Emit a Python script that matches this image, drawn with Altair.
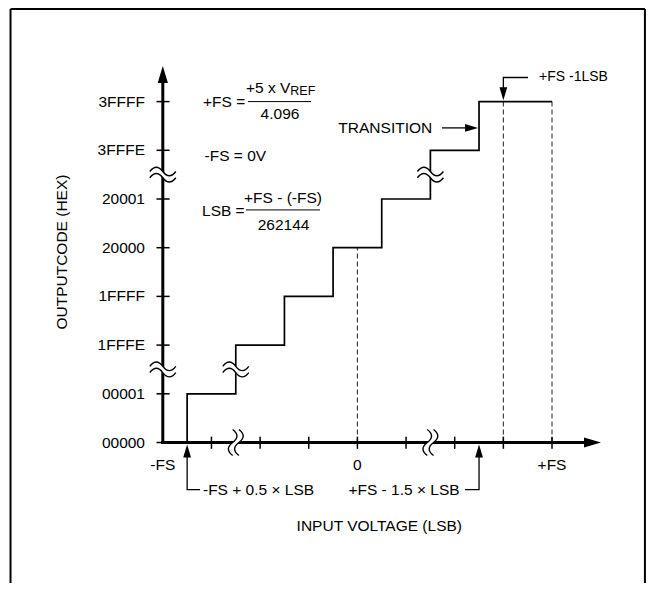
import altair as alt
import pandas as pd

# ---------------- data (LSB units on x, code index on y) ----------------
code_labels = ["00000", "00001", "1FFFE", "1FFFF", "20000", "20001", "3FFFE", "3FFFF"]
code_index = [0, 1, 2, 3, 4, 5, 6, 7]
transition_lsb = [0.5, 0.5, 1.5, 2.5, 3.5, 4.5, 5.5, 6.5, 8.0]
transition_code = [0, 1, 2, 3, 4, 5, 6, 7, 7]
x_tick_lsb = [1, 2, 3, 4, 5, 6, 7, 8]
x_label_lsb = [0, 4, 8]
x_label_text = ["-FS", "0", "+FS"]
dashed_lsb = [4, 7, 8]
dashed_top = [4, 7, 7]
break_vertical_u = [0, 0, 1.5, 5.5]      # breaks on vertical lines (y axis, risers)
break_vertical_c = [1.5, 5.5, 1.5, 5.5]
break_axis_u = [1.5, 5.5]                # breaks on the x axis

FONT = "Liberation Sans, Arial, sans-serif"
FS = 15.5
XS = alt.Scale(domain=[-3.182, 9.932], nice=False, zero=False)
YS = alt.Scale(domain=[-2.885, 8.922], nice=False, zero=False)


def X(f):
    return alt.X(f, type="quantitative", scale=XS, axis=None)


def Y(f):
    return alt.Y(f, type="quantitative", scale=YS, axis=None)


# ---------------- frame ----------------
border = pd.DataFrame({"u": [-3.13, -3.13, 9.91], "u2": [-3.13, 9.91, 9.91],
                       "c": [-2.9, 8.9, 8.9], "c2": [8.9, 8.9, -2.9]})
border_l = alt.Chart(border).mark_rule(color="black", strokeWidth=2).encode(
    x=X("u"), x2="u2", y=Y("c"), y2="c2")

# dashed references
dashed = pd.DataFrame({"u": dashed_lsb, "c0": [0] * 3, "c1": dashed_top})
dashed_l = alt.Chart(dashed).mark_rule(color="#333", strokeWidth=1.1, strokeDash=[5, 3]).encode(
    x=X("u"), y=Y("c0"), y2="c1")

# staircase
stairs = pd.DataFrame({"u": transition_lsb, "c": transition_code})
stairs_l = alt.Chart(stairs).mark_line(color="black", strokeWidth=1.7, interpolate="step-after").encode(
    x=X("u"), y=Y("c"))

# axes
axes = pd.DataFrame({"u": [-0.03, 0], "u2": [8.9, 0], "c": [0, -0.03], "c2": [0, 7.5]})
axes_l = alt.Chart(axes).mark_rule(color="black", strokeWidth=3).encode(
    x=X("u"), x2="u2", y=Y("c"), y2="c2")

# ticks
yt = pd.DataFrame({"c": code_index, "u0": [-0.13] * 8, "u1": [0.14] * 8})
yt_l = alt.Chart(yt).mark_rule(color="black", strokeWidth=1.5).encode(
    x=X("u0"), x2="u1", y=Y("c"))
xt = pd.DataFrame({"u": x_tick_lsb, "c0": [-0.13] * 8, "c1": [0.12] * 8})
xt_l = alt.Chart(xt).mark_rule(color="black", strokeWidth=1.5).encode(
    x=X("u"), y=Y("c0"), y2="c1")

# break symbols
CURVES = ("M-1,-0.24 Q-0.5,-0.9 0,-0.24 Q0.5,0.42 1,-0.24 "
          "M-1,0.24 Q-0.5,-0.42 0,0.24 Q0.5,0.9 1,0.24")
MASK = ("M-1,-0.24 Q-0.5,-0.9 0,-0.24 Q0.5,0.42 1,-0.24 L1,0.24 "
        "Q0.5,0.9 0,0.24 Q-0.5,-0.42 -1,0.24 Z")
brk = pd.DataFrame({"u": break_vertical_u + break_axis_u,
                    "c": break_vertical_c + [0, 0],
                    "ang": [0, 0, 0, 0, 90, 90]})
mask_l = alt.Chart(brk).mark_point(shape=MASK, filled=True, color="white", opacity=1,
                                   size=676, strokeWidth=0).encode(
    x=X("u"), y=Y("c"), angle=alt.Angle("ang:Q", scale=None))
curve_l = alt.Chart(brk).mark_point(shape=CURVES, filled=False, color="black", opacity=1,
                                    size=676, strokeWidth=1.4).encode(
    x=X("u"), y=Y("c"), angle=alt.Angle("ang:Q", scale=None))

# arrowheads (tip at the point)
ARROW = "M0,0 L-0.6,2 L0.6,2 Z"
arr = pd.DataFrame({"u": [0, 9.007, 0.5, 6.5, 7.0, 6.48],
                    "c": [7.731, 0, -0.04, -0.04, 7.03, 6.46],
                    "ang": [0, 90, 0, 0, 180, 90],
                    "s": [289, 289, 169, 169, 169, 169]})
arr_l = alt.Chart(arr).mark_point(shape=ARROW, filled=True, color="black", opacity=1,
                                  strokeWidth=0).encode(
    x=X("u"), y=Y("c"), angle=alt.Angle("ang:Q", scale=None), size=alt.Size("s:Q", scale=None))

# leader lines
lead = pd.DataFrame({
    "g": ["a"] * 3 + ["b"] * 3 + ["c"] * 3 + ["d"] * 2,
    "o": [0, 1, 2] * 3 + [0, 1],
    "u": [0.5, 0.5, 0.765, 6.5, 6.5, 6.21, 7.0, 7.0, 7.507, 5.739, 6.3],
    "c": [-0.2, -0.967, -0.967, -0.2, -0.967, -0.967, 7.2, 7.495, 7.495, 6.46, 6.46]})
lead_l = alt.Chart(lead).mark_line(color="black", strokeWidth=1.3).encode(
    x=X("u"), y=Y("c"), detail="g:N", order="o:Q")

# fraction bars
bars = pd.DataFrame({"u": [1.751, 1.71], "u2": [3.046, 3.231], "c": [7.0, 4.776]})
bars_l = alt.Chart(bars).mark_rule(color="black", strokeWidth=1).encode(
    x=X("u"), x2="u2", y=Y("c"))


def texts(df, align, angle=0):
    return alt.Chart(df).mark_text(align=align, baseline="middle", font=FONT,
                                   color="black", angle=angle).encode(
        x=X("u"), y=Y("c"), text="t:N", size=alt.Size("fs:Q", scale=None))


right_txt = pd.DataFrame({
    "t": code_labels + ["+FS - 1.5 × LSB", "TRANSITION"],
    "u": [-0.366] * 8 + [6.10, 5.538],
    "c": code_index + [-0.967, 6.46],
    "fs": [FS] * 10})
center_txt = pd.DataFrame({
    "t": x_label_text + ["INPUT VOLTAGE (LSB)", "4.096", "+FS - (-FS)", "262144"],
    "u": x_label_lsb + [4.45, 2.409, 2.471, 2.481],
    "c": [-0.462] * 3 + [-1.706, 6.747, 5.02, 4.472],
    "fs": [FS] * 7})
left_txt = pd.DataFrame({
    "t": ["-FS + 0.5 × LSB", "+FS -1LSB", "+FS =", "+5 x V", "REF", "-FS = 0V", "LSB ="],
    "u": [0.826, 7.733, 0.826, 1.71, 2.62, 0.857, 0.806],
    "c": [-0.967, 7.495, 7.0, 7.271, 7.22, 5.891, 4.762],
    "fs": [FS, 14, FS, FS, 12.5, FS, FS]})
rot_txt = pd.DataFrame({"t": ["OUTPUTCODE (HEX)"], "u": [-2.072], "c": [3.91], "fs": [FS]})

chart = alt.layer(
    border_l, dashed_l, stairs_l, axes_l, yt_l, xt_l, mask_l, curve_l, arr_l, lead_l, bars_l,
    texts(right_txt, "right"), texts(center_txt, "center"), texts(left_txt, "left"),
    texts(rot_txt, "center", 270),
).properties(
    width=638, height=575, padding=0, autosize=alt.AutoSizeParams(type="none"),
    background="white",
).configure_view(stroke=None)

chart.save("out.html", embed_options={"renderer": "svg", "actions": False})
